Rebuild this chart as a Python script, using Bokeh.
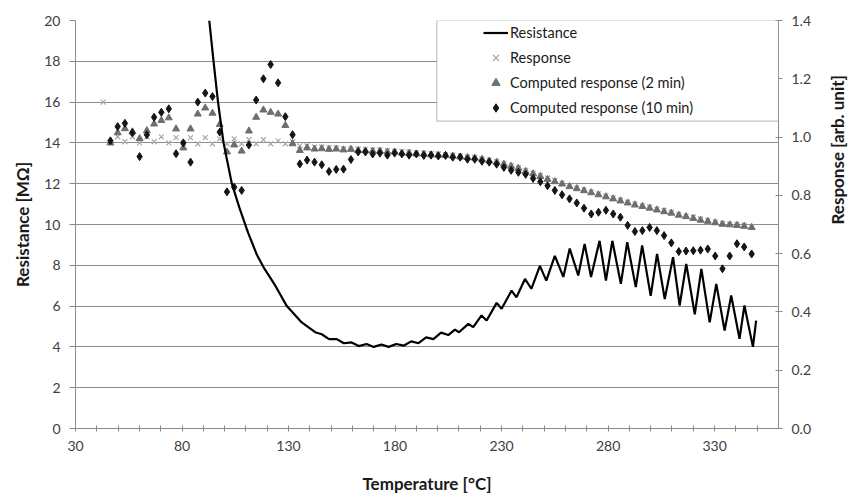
import math
from bokeh.plotting import figure
from bokeh.models import (Range1d, LinearAxis, Legend, LegendItem, BoxAnnotation, Label,
                          FixedTicker, PrintfTickFormatter)
from bokeh.embed import file_html
from bokeh.resources import INLINE

nan = float("nan")

# ---- Resistance (left axis, MOhm) ----
res_temp = [92.8, 94.8, 96.9, 99.5, 103.4, 107.0, 111.0, 115.2, 118.3, 123.8, 129.2, 136.2, 142.5,
            145.6, 149.0, 152.6, 156.0, 159.6, 163.0, 166.6, 170.0, 173.6, 177.0, 180.6, 184.0,
            187.6, 191.0, 194.6, 198.0, 201.6, 205.0, 208.1, 210.0,
            214.4, 216.7, 220.6, 223.0, 227.7, 230.0, 234.7, 237.0, 241.0, 244.0, 248.0, 251.0,
            255.0, 259.0, 262.0, 266.0, 269.0, 272.0, 276.0, 279.0, 282.0, 286.0, 289.0, 293.0,
            296.0, 300.0, 303.0, 306.6, 310.5, 313.6, 316.7, 320.7, 323.8, 327.7, 330.8, 334.7,
            337.8, 341.7, 344.0, 348.0, 349.5]
resistance = [20.0, 18.0, 16.0, 14.0, 12.0, 10.8, 9.6, 8.5, 7.9, 7.0, 6.0, 5.2, 4.72,
              4.62, 4.38, 4.38, 4.18, 4.22, 4.04, 4.14, 4.00, 4.12, 4.00, 4.14, 4.06,
              4.27, 4.18, 4.47, 4.38, 4.70, 4.58, 4.85, 4.72,
              5.13, 4.97, 5.54, 5.29, 6.16, 5.87, 6.76, 6.43, 7.33, 6.85, 7.97, 7.25,
              8.46, 7.43, 8.82, 7.50, 9.05, 7.43, 9.20, 7.25, 9.20, 7.09, 9.13, 6.93,
              8.97, 6.50, 8.56, 6.35, 8.40, 6.03, 8.07, 5.60, 7.82, 5.20, 7.09, 4.80,
              6.52, 4.40, 6.03, 4.00, 5.29]

# ---- Response series (right axis, arb. unit) ----
temp = [43.0, 46.4, 49.8, 53.2, 56.7, 60.1, 63.5, 66.9, 70.3, 73.8, 77.2,
        80.6, 84.0, 87.4, 90.9, 94.3, 97.7, 101.1, 104.5, 108.0, 111.4,
        114.8, 118.2, 121.6, 125.1, 128.5, 131.9, 135.3, 138.7, 142.2, 145.6,
        149.0, 152.4, 155.8, 159.3, 162.7, 166.1, 169.5, 172.9, 176.4, 179.8,
        183.2, 186.6, 190.0, 193.5, 196.9, 200.3, 203.7, 207.1, 210.6, 214.0,
        217.4, 220.8, 224.2, 227.7, 231.1, 234.5, 237.9, 241.3, 244.8, 248.2,
        251.6, 255.0, 258.4, 261.9, 265.3, 268.7, 272.1, 275.5, 279.0, 282.4,
        285.8, 289.2, 292.6, 296.1, 299.5, 302.9, 306.3, 309.7, 313.2, 316.6,
        320.0, 323.4, 326.8, 330.3, 333.7, 337.1, 340.5, 343.9, 347.4]

response = [1.120,
            0.980, 1.001, 0.984, 1.001, 0.980, 1.001, 0.984, 1.001, 0.980, 0.998,
            0.980, 0.998, 0.977, 0.998, 0.977, 0.994, 0.977, 0.994, 0.977, 0.991,
            0.977, 0.991, 0.977, 0.987, 0.977, 0.984, 0.970, 0.970, 0.966, 0.966,
            0.963, 0.963, 0.960, 0.959, 0.959, 0.958, 0.956, 0.956, 0.953, 0.952,
            0.951, 0.949, 0.946, 0.945, 0.944, 0.942, 0.939, 0.938, 0.935, 0.932,
            0.930, 0.925, 0.921, 0.916, 0.909, 0.902, 0.895, 0.886, 0.876, 0.868,
            0.859, 0.851, 0.841, 0.833, 0.826, 0.819, 0.812, 0.805, 0.798, 0.791,
            0.784, 0.777, 0.770, 0.764, 0.760, 0.753, 0.748, 0.742, 0.735, 0.729,
            0.725, 0.719, 0.714, 0.708, 0.704, 0.701, 0.700, 0.698, 0.693]

computed_2min = [nan,
                 0.980, 1.015, 1.029, 1.018, 0.995, 1.022, 1.045, 1.057, 1.066, 1.028,
                 0.963, 1.028, 1.079, 1.100, 1.082, 1.043, 0.949, 0.973, 0.952, 1.021,
                 1.068, 1.093, 1.085, 1.079, 1.040, 0.977, 0.954, 0.963, 0.959, 0.960,
                 0.958, 0.959, 0.956, 0.958, 0.954, 0.953, 0.952, 0.952, 0.949, 0.949,
                 0.945, 0.945, 0.942, 0.942, 0.939, 0.938, 0.937, 0.935, 0.932, 0.930,
                 0.928, 0.924, 0.918, 0.914, 0.907, 0.900, 0.893, 0.882, 0.874, 0.865,
                 0.855, 0.847, 0.839, 0.830, 0.823, 0.816, 0.809, 0.802, 0.795, 0.788,
                 0.781, 0.774, 0.767, 0.762, 0.756, 0.750, 0.744, 0.739, 0.732, 0.727,
                 0.721, 0.715, 0.711, 0.706, 0.701, 0.699, 0.697, 0.694, 0.690]

computed_10min = [nan,
                  0.987, 1.036, 1.047, 1.015, 0.933, 1.008, 1.068, 1.085, 1.097, 0.943,
                  0.980, 0.914, 1.120, 1.151, 1.139, 1.017, 0.812, 0.828, 0.817, 0.973,
                  1.127, 1.200, 1.249, 1.186, 1.070, 1.008, 0.908, 0.921, 0.914, 0.905,
                  0.882, 0.889, 0.890, 0.923, 0.949, 0.949, 0.942, 0.945, 0.938, 0.945,
                  0.942, 0.938, 0.942, 0.937, 0.938, 0.935, 0.937, 0.931, 0.931, 0.924,
                  0.924, 0.917, 0.914, 0.907, 0.896, 0.886, 0.879, 0.872, 0.858, 0.847,
                  0.833, 0.817, 0.802, 0.788, 0.774, 0.756, 0.736, 0.742, 0.749, 0.736,
                  0.725, 0.697, 0.676, 0.679, 0.690, 0.679, 0.662, 0.637, 0.607, 0.609,
                  0.610, 0.612, 0.616, 0.592, 0.548, 0.592, 0.634, 0.623, 0.599]

x_ticks = [30, 80, 130, 180, 230, 280, 330]
x_minor = [40, 50, 60, 70, 90, 100, 110, 120, 140, 150, 160, 170, 190, 200, 210, 220,
           240, 250, 260, 270, 290, 300, 310, 320, 340, 350]
left_ticks = [0, 2, 4, 6, 8, 10, 12, 14, 16, 18, 20]
right_ticks = [0.0, 0.2, 0.4, 0.6, 0.8, 1.0, 1.2, 1.4]

FONT = "Lato"
TICK_COLOR = "#404040"
AX_COLOR = "#8a8a8a"

p = figure(width=861, height=501, output_backend="svg", toolbar_location=None,
           x_range=Range1d(30, 360), y_range=Range1d(0, 20),
           min_border_left=75, min_border_right=81, min_border_top=20, min_border_bottom=73,
           background_fill_color="white", border_fill_color="white")
p.outline_line_color = None
p.extra_y_ranges = {"resp": Range1d(0, 1.4)}

# axes
p.xaxis.ticker = FixedTicker(ticks=x_ticks, minor_ticks=x_minor)
p.yaxis.ticker = FixedTicker(ticks=left_ticks)
p.ygrid.ticker = FixedTicker(ticks=left_ticks)
p.xgrid.visible = False
p.ygrid.grid_line_color = "#8c8c8c"
p.ygrid.grid_line_width = 1

p.xaxis.axis_label = "Temperature [°C]"
p.yaxis.axis_label = "Resistance [MΩ]"

right = LinearAxis(y_range_name="resp", ticker=FixedTicker(ticks=right_ticks),
                   formatter=PrintfTickFormatter(format="%.1f"))
p.add_layout(right, "right")

for ax in [p.xaxis[0], p.yaxis[0], right]:
    ax.axis_line_color = AX_COLOR
    ax.major_tick_line_color = AX_COLOR
    ax.minor_tick_line_color = AX_COLOR
    ax.major_label_text_font = FONT
    ax.major_label_text_font_size = "14px"
    ax.major_label_text_color = TICK_COLOR
    ax.axis_label_text_font = FONT
    ax.axis_label_text_font_size = "17px"
    ax.axis_label_text_font_style = "bold"
    ax.axis_label_text_color = "#1a1a1a"

p.xaxis.major_tick_in = 3
p.xaxis.major_tick_out = 3
p.xaxis.minor_tick_in = 3
p.xaxis.minor_tick_out = 3
p.xaxis.major_label_standoff = 9
p.xaxis.axis_label_standoff = 19

p.yaxis.major_tick_in = 0
p.yaxis.major_tick_out = 6
p.yaxis.minor_tick_out = 0
p.yaxis.major_label_standoff = 9
p.yaxis.axis_label_standoff = 8

right.major_tick_in = 3
right.major_tick_out = 4
right.minor_tick_out = 0
right.major_label_standoff = 9

# right axis title, reading bottom-to-top like the reference
right_title = "Response [arb. unit]"
try:
    right.axis_label_orientation = math.pi / 2
    right.axis_label = right_title
    right.axis_label_standoff = 23
except Exception:
    right.axis_label = None
    p.add_layout(Label(x=848, y=273, x_units="screen", y_units="screen",
                       text=right_title, angle=math.pi / 2,
                       text_align="center", text_baseline="middle",
                       text_font=FONT, text_font_size="17px", text_font_style="bold",
                       text_color="#1a1a1a"))

# series
r_resp = p.scatter(temp, response, y_range_name="resp", marker="x", size=7,
                   line_color="#a8a8a8", line_width=1.2)
r_c2 = p.scatter(temp, computed_2min, y_range_name="resp", marker="triangle", size=7,
                 fill_color="#6e6e6e", line_color="#6e6e6e")
r_c10 = p.scatter(temp, computed_10min, y_range_name="resp", marker="diamond", size=8,
                  fill_color="#151515", line_color="#151515")
r_res = p.line(res_temp, resistance, line_color="black", line_width=2.2)

# legend box + legend
box = BoxAnnotation(left=199.6, right=360, bottom=15.07, top=20,
                    fill_color="white", fill_alpha=1, line_color="#3a3a3a", line_width=1.2)
p.add_layout(box)

legend = Legend(items=[LegendItem(label="Resistance", renderers=[r_res]),
                       LegendItem(label="Response", renderers=[r_resp]),
                       LegendItem(label="Computed response (2 min)", renderers=[r_c2]),
                       LegendItem(label="Computed response (10 min)", renderers=[r_c10])],
                location=(408, 310), padding=0, margin=0,
                border_line_alpha=0, background_fill_alpha=0,
                glyph_width=25, glyph_height=21, label_height=21, spacing=4,
                label_standoff=2, label_text_font=FONT, label_text_font_size="14.5px",
                label_text_color="#1a1a1a")
p.add_layout(legend)

open("out.html", "w").write(file_html(p, INLINE))
